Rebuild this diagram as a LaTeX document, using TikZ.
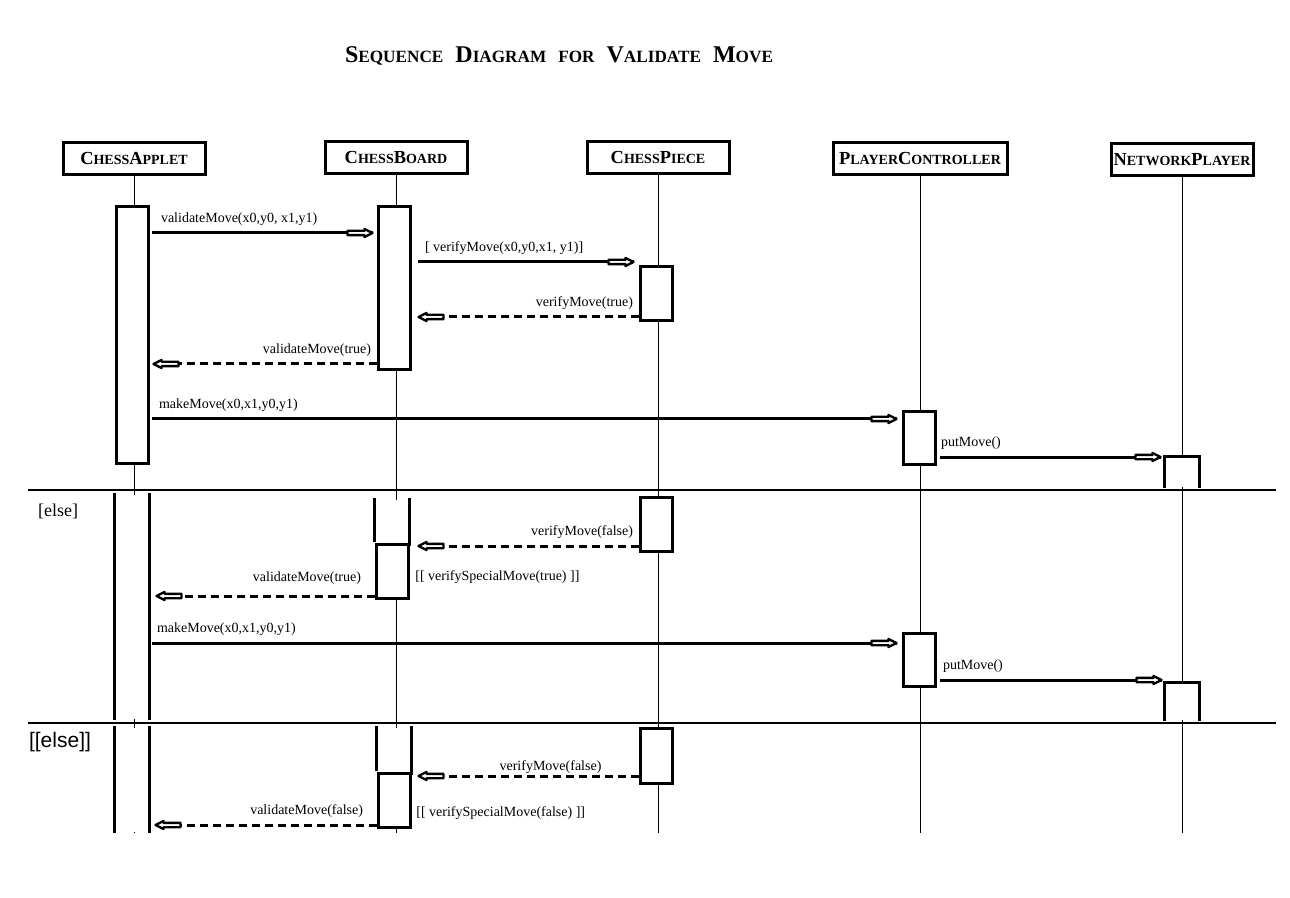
\documentclass[tikz,border=0pt]{standalone}
\usepackage{fontspec}
\setmainfont{Liberation Serif}
\newfontfamily\elsefont{Liberation Sans}
\usetikzlibrary{decorations.markings}

\newcommand{\smc}[1]{{\fontsize{7}{8}\selectfont #1}}
\newcommand{\tsmc}[1]{{\fontsize{8.6}{10}\selectfont #1}}

\tikzset{
  head/.style={draw, line width=1.5pt, minimum width=71pt, minimum height=16pt, inner sep=1pt, font=\fontsize{9.2}{11}\selectfont\bfseries},
  life/.style={line width=0.5pt},
  act/.style={draw, fill=white, line width=1.5pt, minimum width=16pt, inner sep=0pt, anchor=north},
  openact/.style={act, draw=none},
  side/.style={line width=1.5pt},
  hollow/.style={postaction={decorate, decoration={markings, mark=at position 1 with {
      \draw[solid, line width=1.2pt, fill=white, line join=round] (0,0) -- (-4pt,2pt) -- (-4pt,1.1pt) -- (-12.5pt,1.1pt) -- (-12.5pt,-1.1pt) -- (-4pt,-1.1pt) -- (-4pt,-2pt) -- cycle;}}}},
  msg/.style={line width=1.5pt, hollow},
  ret/.style={msg, dash pattern=on 4pt off 2.5pt},
  lbl/.style={font=\fontsize{7}{8}\selectfont, inner sep=2pt, yshift=1pt},
  sep/.style={line width=0.6pt},
}

\begin{document}
\begin{tikzpicture}[x=0.5pt, y=-0.5pt]
\useasboundingbox (0,0) rectangle (1290,898);

\node (title) at (559,56) {\fontsize{12}{14}\selectfont\bfseries\spaceskip=6pt S\tsmc{EQUENCE} D\tsmc{IAGRAM} \tsmc{FOR} V\tsmc{ALIDATE} M\tsmc{OVE}};

% objects
\node[head] (appl) at (134,159) {C\smc{HESS}A\smc{PPLET}};
\node[head] (board) at (396,158) {C\smc{HESS}B\smc{OARD}};
\node[head] (piece) at (658,158) {C\smc{HESS}P\smc{IECE}};
\node[head, minimum width=87pt] (ctrl) at (920,159) {P\smc{LAYER}C\smc{ONTROLLER}};
\node[head] (net) at (1182,160) {N\smc{ETWORK}P\smc{LAYER}};

\foreach \n in {appl,board,piece,ctrl,net}
  \draw[life] (\n.south) -- (\n.south |- 0,833);

\draw[sep] (28,490) coordinate (s1) -- (1276,490);
\draw[sep] (28,723) coordinate (s2) -- (1276,723);
\node[anchor=west, font=\fontsize{9}{10}\selectfont] (else1) at (31,511) {[else]};
\node[anchor=west, font=\elsefont\fontsize{10.5}{12}\selectfont] (else2) at (22,742) {[[else]]};

% first block
\node[act, minimum height=128.5pt] (a1) at (132,205) {};
\node[act, minimum height=81.5pt] (b1) at (394,205) {};
\node[act, minimum height=27pt] (p1) at (656,265) {};
\node[act, minimum height=26.5pt] (c1) at (919,410) {};
\node[openact, minimum height=14.5pt] (n1) at (1182,456) {};
\draw[side] (n1.south west) -- (n1.north west) -- (n1.north east) -- (n1.south east);

\draw[msg] ([xshift=1pt]a1.east |- 0,233) node[lbl, above right, xshift=2pt] {validateMove(x0,y0, x1,y1)} -- ([xshift=-2pt]b1.west |- 0,233);
\draw[msg] ([xshift=3pt]b1.east |- 0,262) node[lbl, above right, xshift=1pt] {[ verifyMove(x0,y0,x1, y1)]} -- ([xshift=-2.5pt]p1.west |- 0,262);
\draw[ret] (p1.west |- 0,317) node[lbl, above left] {verifyMove(true)} -- ([xshift=3.5pt]b1.east |- 0,317);
\draw[ret] (b1.west |- 0,364) node[lbl, above left] {validateMove(true)} -- ([xshift=2pt]a1.east |- 0,364);
\draw[msg] ([xshift=1pt]a1.east |- 0,419) node[lbl, above right, xshift=1pt] {makeMove(x0,x1,y0,y1)} -- ([xshift=-2.5pt]c1.west |- 0,419);
\draw[msg] ([xshift=1.5pt]c1.east |- 0,457) node[lbl, above right, xshift=-2pt] {putMove()} -- ([xshift=-2pt]n1.west |- 0,457);

% [else]
\node[openact, minimum height=112pt] (a2) at (132,493) {};
\draw[side] (a2.north west) -- (a2.south west) (a2.north east) -- (a2.south east);
\node[openact, minimum height=22.5pt] (b2) at (392,498) {};
\node[act, minimum height=27pt] (b2x) at (392,543) {};
\draw[side] (b2.north west) -- ([yshift=2pt]b2.south west) (b2.north east) -- (b2.south east);
\node[act, minimum height=27pt] (p2) at (656,496) {};
\node[act, minimum height=26.5pt] (c2) at (919,632) {};
\node[openact, minimum height=18pt] (n2) at (1182,682) {};
\draw[side] (n2.south west) -- (n2.north west) -- (n2.north east) -- (n2.south east);

\draw[ret] (p2.west |- 0,546) node[lbl, above left] {verifyMove(false)} -- ([xshift=4.5pt]b2x.east |- 0,546);
\node[lbl, anchor=west] (vsm1) at (411,579) {[[ verifySpecialMove(true) ]]};
\draw[ret] (b2x.west |- 0,596) node[lbl, above left, xshift=-4pt, yshift=2pt] {validateMove(true)} -- ([xshift=3.5pt]a2.east |- 0,596);
\draw[msg] ([xshift=1pt]a2.east |- 0,643) node[lbl, above right] {makeMove(x0,x1,y0,y1)} -- ([xshift=-2.5pt]c2.west |- 0,643);
\draw[msg] ([xshift=1.5pt]c2.east |- 0,680) node[lbl, above right, xshift=-1pt] {putMove()} -- ([xshift=-1.5pt]n2.west |- 0,680);

% [[else]]
\node[openact, minimum height=52pt] (a3) at (132,726) {};
\draw[side] (a3.north west) -- (a3.south west) (a3.north east) -- (a3.south east);
\node[openact, minimum height=23pt] (b3) at (394,726) {};
\node[act, minimum height=27pt] (b3x) at (394,772) {};
\draw[side] (b3.north west) -- ([yshift=2pt]b3.south west) (b3.north east) -- (b3.south east);
\node[act, minimum height=27.5pt] (p3) at (656,727) {};

\draw[ret] (p3.west |- 0,776) -- node[lbl, pos=0.4, above, inner sep=0.5pt, yshift=-1pt] {verifyMove(false)} ([xshift=3.5pt]b3x.east |- 0,776);
\node[lbl, anchor=west] (vsm2) at (412,815) {[[ verifySpecialMove(false) ]]};
\draw[ret] (b3x.west |- 0,825) node[lbl, above left, xshift=-4pt] {validateMove(false)} -- ([xshift=3pt]a3.east |- 0,825);

\end{tikzpicture}
\end{document}
